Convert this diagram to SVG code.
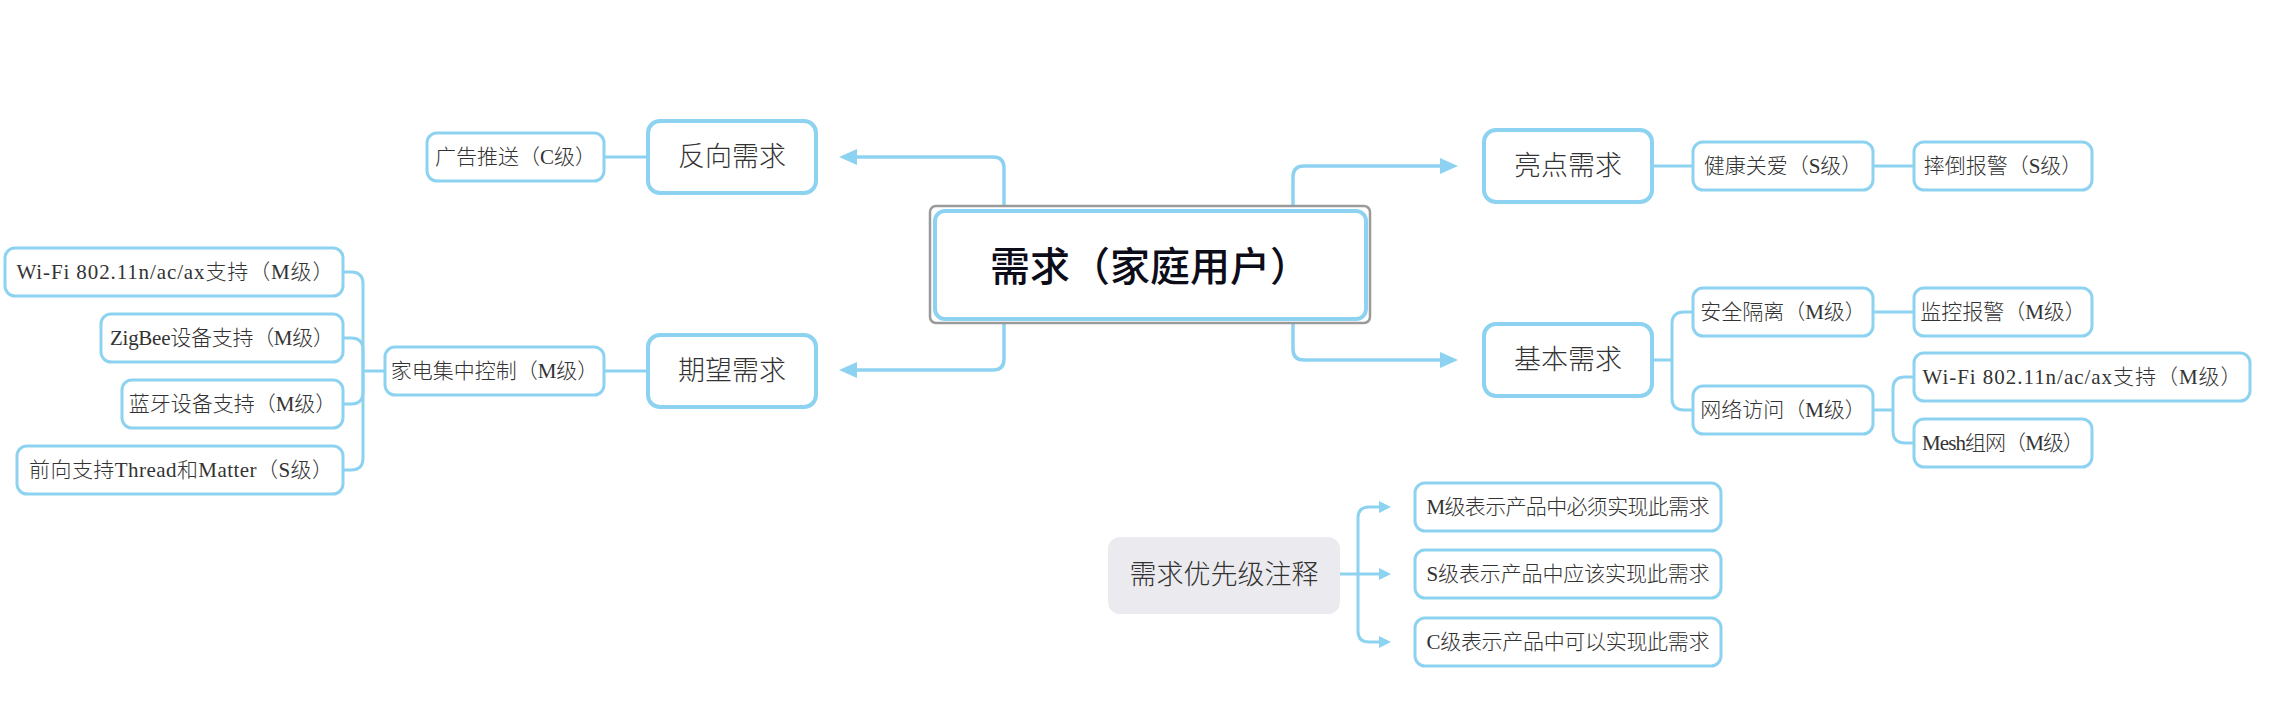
<svg xmlns="http://www.w3.org/2000/svg" width="2270" height="720" viewBox="0 0 2270 720">
<defs>
<style>
.bg{fill:#ffffff}
.n1{fill:#ffffff;stroke:#8dd3f1;stroke-width:4}
.n2{fill:#ffffff;stroke:#8dd3f1;stroke-width:3}
.c{fill:none;stroke:#8dd3f1;stroke-width:3.5;stroke-linejoin:round}
.c2{fill:none;stroke:#8dd3f1;stroke-width:3;stroke-linejoin:round}
text{font-family:"Liberation Serif","Noto Sans CJK SC",serif;text-anchor:middle;dominant-baseline:central;fill:#333333}
.t2{font-size:21px;font-weight:300}
.t1{font-size:27px;font-weight:300}
.t0{font-family:"Noto Sans CJK SC",sans-serif;font-size:40px;font-weight:500;fill:#0d0d1a}
</style>
<marker id="arr" markerUnits="userSpaceOnUse" markerWidth="18" markerHeight="16" refX="0" refY="8" orient="auto" viewBox="0 0 18 16">
<path d="M0,0 L18,8 L0,16 z" fill="#8dd3f1"/>
</marker>
<marker id="arrS" markerUnits="userSpaceOnUse" markerWidth="12" markerHeight="12" refX="0" refY="6" orient="auto" viewBox="0 0 12 12">
<path d="M0,0 L12,6 L0,12 z" fill="#8dd3f1"/>
</marker>
</defs>
<rect class="bg" x="0" y="0" width="2270" height="720"/>

<g id="connectors">
<path class="c" d="M1004,210 V168 Q1004,157 993,157 H857" marker-end="url(#arr)"/>
<path class="c" d="M1004,319 V359 Q1004,370 993,370 H857" marker-end="url(#arr)"/>
<path class="c" d="M1293,211 V177 Q1293,166 1304,166 H1440" marker-end="url(#arr)"/>
<path class="c" d="M1293,319 V349 Q1293,360 1304,360 H1440" marker-end="url(#arr)"/>
<path class="c2" d="M604,157 H648"/>
<path class="c2" d="M604,371 H648"/>
<path class="c2" d="M385,371 H363"/>
<path class="c2" d="M363,371 V284 Q363,272 351,272 H343"/>
<path class="c2" d="M363,371 V350 Q363,338 351,338 H343"/>
<path class="c2" d="M363,371 V392 Q363,404 351,404 H343"/>
<path class="c2" d="M363,371 V458 Q363,470 351,470 H343"/>
<path class="c2" d="M1652,166 H1693"/>
<path class="c2" d="M1873,166 H1914"/>
<path class="c2" d="M1652,360 H1672"/>
<path class="c2" d="M1672,360 V324 Q1672,312 1684,312 H1693"/>
<path class="c2" d="M1672,360 V398 Q1672,410 1684,410 H1693"/>
<path class="c2" d="M1873,312 H1914"/>
<path class="c2" d="M1873,410 H1893"/>
<path class="c2" d="M1893,410 V389 Q1893,377 1905,377 H1914"/>
<path class="c2" d="M1893,410 V431 Q1893,443 1905,443 H1914"/>
<path class="c2" d="M1340,574 H1379" marker-end="url(#arrS)"/>
<path class="c2" d="M1358,574 V518 Q1358,507 1369,507 H1379" marker-end="url(#arrS)"/>
<path class="c2" d="M1358,574 V631 Q1358,642 1369,642 H1379" marker-end="url(#arrS)"/>
</g>

<g id="root">
<rect x="930" y="206" width="440" height="117" rx="6" fill="#ffffff" stroke="#9a9a9a" stroke-width="2.5"/>
<rect class="n1" x="935" y="211" width="431" height="108" rx="10"/>
<text class="t0" x="1150" y="264">需求（家庭用户）</text>
</g>

<g id="n-fanxiang">
<rect class="n1" x="648" y="121" width="168" height="72" rx="12"/>
<text class="t1" x="732" y="157">反向需求</text>
</g>
<g id="n-guanggao">
<rect class="n2" x="427" y="133" width="177" height="48" rx="10"/>
<text class="t2" x="515.5" y="157">广告推送（C级）</text>
</g>

<g id="n-qiwang">
<rect class="n1" x="648" y="335" width="168" height="72" rx="12"/>
<text class="t1" x="732" y="371">期望需求</text>
</g>
<g id="n-jiadian">
<rect class="n2" x="385" y="347" width="219" height="48" rx="10"/>
<text class="t2" x="494.5" y="371">家电集中控制（M级）</text>
</g>
<g id="n-wifi-l">
<rect class="n2" x="5" y="248" width="338" height="48" rx="10"/>
<text class="t2" x="175" y="272" textLength="317" lengthAdjust="spacing">Wi-Fi 802.11n/ac/ax支持（M级）</text>
</g>
<g id="n-zigbee">
<rect class="n2" x="101" y="314" width="242" height="48" rx="10"/>
<text class="t2" x="222" y="338" textLength="224" lengthAdjust="spacing">ZigBee设备支持（M级）</text>
</g>
<g id="n-bt">
<rect class="n2" x="122" y="380" width="221" height="48" rx="10"/>
<text class="t2" x="232.5" y="404">蓝牙设备支持（M级）</text>
</g>
<g id="n-thread">
<rect class="n2" x="17" y="446" width="326" height="48" rx="10"/>
<text class="t2" x="181" y="470" textLength="304" lengthAdjust="spacing">前向支持Thread和Matter（S级）</text>
</g>

<g id="n-liangdian">
<rect class="n1" x="1484" y="130" width="168" height="72" rx="12"/>
<text class="t1" x="1568" y="166">亮点需求</text>
</g>
<g id="n-jiankang">
<rect class="n2" x="1693" y="142" width="180" height="48" rx="10"/>
<text class="t2" x="1783" y="166">健康关爱（S级）</text>
</g>
<g id="n-shuaidao">
<rect class="n2" x="1914" y="142" width="178" height="48" rx="10"/>
<text class="t2" x="2003" y="166">摔倒报警（S级）</text>
</g>

<g id="n-jiben">
<rect class="n1" x="1484" y="324" width="168" height="72" rx="12"/>
<text class="t1" x="1568" y="360">基本需求</text>
</g>
<g id="n-anquan">
<rect class="n2" x="1693" y="288" width="180" height="48" rx="10"/>
<text class="t2" x="1783" y="312">安全隔离（M级）</text>
</g>
<g id="n-jiankong">
<rect class="n2" x="1914" y="288" width="178" height="48" rx="10"/>
<text class="t2" x="2003" y="312">监控报警（M级）</text>
</g>
<g id="n-wangluo">
<rect class="n2" x="1693" y="386" width="180" height="48" rx="10"/>
<text class="t2" x="1783" y="410">网络访问（M级）</text>
</g>
<g id="n-wifi-r">
<rect class="n2" x="1914" y="353" width="336" height="48" rx="10"/>
<text class="t2" x="2082" y="377" textLength="319" lengthAdjust="spacing">Wi-Fi 802.11n/ac/ax支持（M级）</text>
</g>
<g id="n-mesh">
<rect class="n2" x="1914" y="419" width="178" height="48" rx="10"/>
<text class="t2" x="2003" y="443" textLength="162" lengthAdjust="spacing">Mesh组网（M级）</text>
</g>

<g id="n-note">
<rect x="1108" y="537" width="232" height="77" rx="12" fill="#ebebef"/>
<text class="t1" x="1224" y="575">需求优先级注释</text>
</g>
<g id="n-m">
<rect class="n2" x="1415" y="483" width="306" height="48" rx="10"/>
<text class="t2" x="1568" y="507" textLength="283" lengthAdjust="spacing">M级表示产品中必须实现此需求</text>
</g>
<g id="n-s">
<rect class="n2" x="1415" y="550" width="306" height="48" rx="10"/>
<text class="t2" x="1568" y="574" textLength="283" lengthAdjust="spacing">S级表示产品中应该实现此需求</text>
</g>
<g id="n-c">
<rect class="n2" x="1415" y="618" width="306" height="48" rx="10"/>
<text class="t2" x="1568" y="642" textLength="283" lengthAdjust="spacing">C级表示产品中可以实现此需求</text>
</g>
</svg>
